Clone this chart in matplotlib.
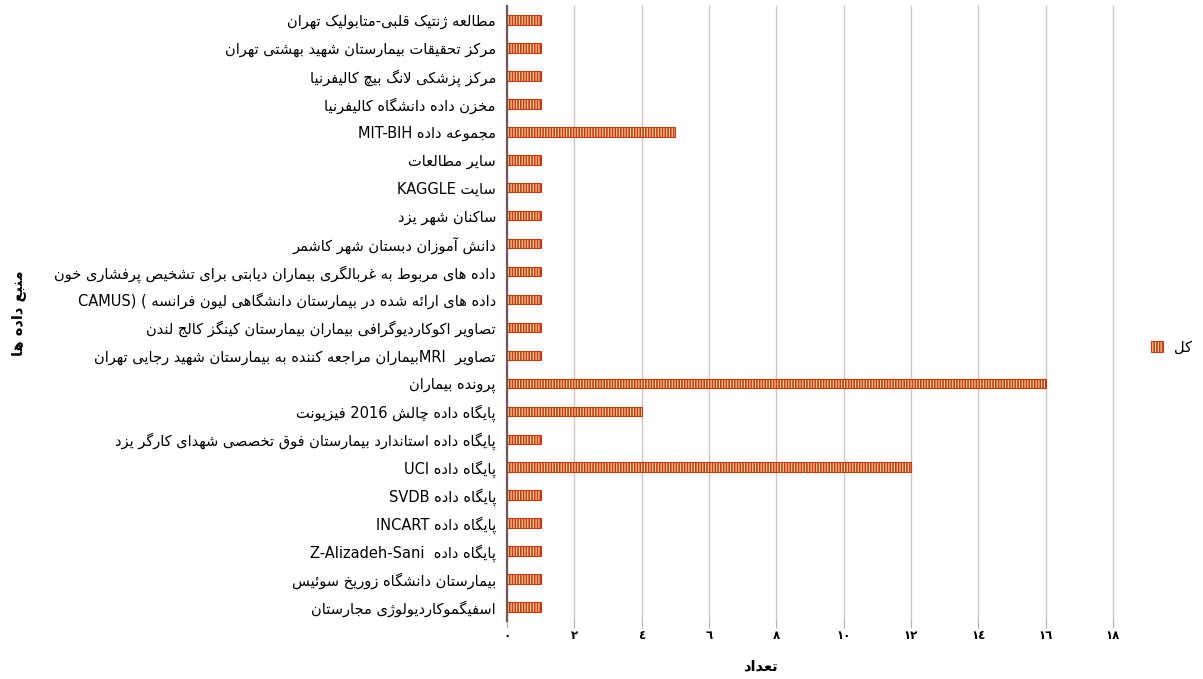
import re
import matplotlib
matplotlib.use("Agg")
import matplotlib.pyplot as plt

# data sources (logical Persian order) and counts
sources = [
    "مطالعه ژنتیک قلبی-متابولیک تهران",
    "مرکز تحقیقات بیمارستان شهید بهشتی تهران",
    "مرکز پزشکی لانگ بیچ کالیفرنیا",
    "مخزن داده دانشگاه کالیفرنیا",
    "مجموعه داده MIT-BIH",
    "سایر مطالعات",
    "سایت KAGGLE",
    "ساکنان شهر یزد",
    "دانش آموزان دبستان شهر کاشمر",
    "داده های مربوط به غربالگری بیماران دیابتی برای تشخیص پرفشاری خون",
    "داده های ارائه شده در بیمارستان دانشگاهی لیون فرانسه ( CAMUS)",
    "تصاویر اکوکاردیوگرافی بیماران بیمارستان کینگز کالج لندن",
    "تصاویر  MRIبیماران مراجعه کننده به بیمارستان شهید رجایی تهران",
    "پرونده بیماران",
    "پایگاه داده چالش 2016 فیزیونت",
    "پایگاه داده استاندارد بیمارستان فوق تخصصی شهدای کارگر یزد",
    "پایگاه داده UCI",
    "پایگاه داده SVDB",
    "پایگاه داده INCART",
    "پایگاه داده  Z-Alizadeh-Sani",
    "بیمارستان دانشگاه زوریخ سوئیس",
    "اسفیگموکاردیولوژی مجارستان",
]
counts = [1, 1, 1, 1, 5, 1, 1, 1, 1, 1, 1, 1, 1, 16, 4, 1, 12, 1, 1, 1, 1, 1]
xticks = [0, 2, 4, 6, 8, 10, 12, 14, 16, 18]
series_name = "کل"
xlabel = "تعداد"
ylabel = "منبع داده ها"

# --- minimal arabic/persian shaping (no reshaper lib available) ---
# (isolated, final, initial, medial); 2-tuple -> joins only to the right
FORMS = {
    "ء": ("\uFE80",),
    "آ": ("\uFE81", "\uFE82"), "أ": ("\uFE83", "\uFE84"), "ؤ": ("\uFE85", "\uFE86"),
    "إ": ("\uFE87", "\uFE88"), "ئ": ("\uFE89", "\uFE8A", "\uFE8B", "\uFE8C"),
    "ا": ("\uFE8D", "\uFE8E"), "ب": ("\uFE8F", "\uFE90", "\uFE91", "\uFE92"),
    "ة": ("\uFE93", "\uFE94"), "ت": ("\uFE95", "\uFE96", "\uFE97", "\uFE98"),
    "ث": ("\uFE99", "\uFE9A", "\uFE9B", "\uFE9C"), "ج": ("\uFE9D", "\uFE9E", "\uFE9F", "\uFEA0"),
    "ح": ("\uFEA1", "\uFEA2", "\uFEA3", "\uFEA4"), "خ": ("\uFEA5", "\uFEA6", "\uFEA7", "\uFEA8"),
    "د": ("\uFEA9", "\uFEAA"), "ذ": ("\uFEAB", "\uFEAC"), "ر": ("\uFEAD", "\uFEAE"),
    "ز": ("\uFEAF", "\uFEB0"), "س": ("\uFEB1", "\uFEB2", "\uFEB3", "\uFEB4"),
    "ش": ("\uFEB5", "\uFEB6", "\uFEB7", "\uFEB8"), "ص": ("\uFEB9", "\uFEBA", "\uFEBB", "\uFEBC"),
    "ض": ("\uFEBD", "\uFEBE", "\uFEBF", "\uFEC0"), "ط": ("\uFEC1", "\uFEC2", "\uFEC3", "\uFEC4"),
    "ظ": ("\uFEC5", "\uFEC6", "\uFEC7", "\uFEC8"), "ع": ("\uFEC9", "\uFECA", "\uFECB", "\uFECC"),
    "غ": ("\uFECD", "\uFECE", "\uFECF", "\uFED0"), "ف": ("\uFED1", "\uFED2", "\uFED3", "\uFED4"),
    "ق": ("\uFED5", "\uFED6", "\uFED7", "\uFED8"), "ك": ("\uFED9", "\uFEDA", "\uFEDB", "\uFEDC"),
    "ل": ("\uFEDD", "\uFEDE", "\uFEDF", "\uFEE0"), "م": ("\uFEE1", "\uFEE2", "\uFEE3", "\uFEE4"),
    "ن": ("\uFEE5", "\uFEE6", "\uFEE7", "\uFEE8"), "ه": ("\uFEE9", "\uFEEA", "\uFEEB", "\uFEEC"),
    "و": ("\uFEED", "\uFEEE"), "ى": ("\uFEEF", "\uFEF0"),
    "ي": ("\uFEF1", "\uFEF2", "\uFEF3", "\uFEF4"),
    "پ": ("\uFB56", "\uFB57", "\uFB58", "\uFB59"), "چ": ("\uFB7A", "\uFB7B", "\uFB7C", "\uFB7D"),
    "ژ": ("\uFB8A", "\uFB8B"), "ک": ("\uFB8E", "\uFB8F", "\uFB90", "\uFB91"),
    "گ": ("\uFB92", "\uFB93", "\uFB94", "\uFB95"), "ی": ("\uFBFC", "\uFBFD", "\uFBFE", "\uFBFF"),
}


def shape_word(w):
    out = []
    i = 0
    n = len(w)
    while i < n:
        c = w[i]
        prev_joins = i > 0 and len(FORMS.get(w[i - 1], ())) == 4 and len(FORMS.get(c, ())) > 1
        if c == "ل" and i + 1 < n and w[i + 1] in "اآ":
            lig = ("\uFEFB", "\uFEFC") if w[i + 1] == "ا" else ("\uFEF5", "\uFEF6")
            out.append(lig[1] if prev_joins else lig[0])
            i += 2
            continue
        f = FORMS.get(c)
        if f is None:
            out.append(c)
            i += 1
            continue
        next_joins = len(f) == 4 and i + 1 < n and len(FORMS.get(w[i + 1], ())) > 1
        if prev_joins and next_joins:
            out.append(f[3])
        elif prev_joins:
            out.append(f[1])
        elif next_joins:
            out.append(f[2])
        else:
            out.append(f[0])
        i += 1
    return "".join(out)


def fa(s):
    parts = re.split(r"([\u0600-\u06FF]+)", s)
    vis = []
    for p in parts:
        if not p:
            continue
        if re.match(r"[\u0600-\u06FF]", p):
            vis.append(shape_word(p)[::-1])
        else:
            vis.append("".join(re.split(r"(\s+)", p)[::-1]))
    return "".join(vis[::-1])


def fa_digits(v):
    return "".join(chr(0x0660 + int(d)) for d in str(v))


plt.rcParams["font.family"] = ["DejaVu Sans"]
plt.rcParams["hatch.linewidth"] = 1.2

fig = plt.figure(figsize=(12.03, 6.79), dpi=100)
ax = fig.add_axes([507 / 1203, 1 - 621 / 679, (1113 - 507) / 1203, 615 / 679])

ypos = list(range(len(sources)))
ax.barh(ypos, counts, height=0.34, color="#fbd8a4", edgecolor="#c83c14",
        hatch="||||||", linewidth=0.8, label=fa(series_name), zorder=3)

ax.set_ylim(len(sources) - 0.5, -0.5)
ax.set_xlim(0, 18)
ax.set_yticks(ypos)
ax.set_yticklabels([fa(s) for s in sources], fontsize=10.5)
ax.set_xticks(xticks)
ax.set_xticklabels([fa_digits(t) for t in xticks], fontsize=8.5, fontweight="bold")

ax.tick_params(axis="y", length=0, pad=8)
ax.tick_params(axis="x", length=5, color="#b0b0b0", pad=1)
ax.grid(axis="x", color="#c8c8c8", linewidth=1.0, zorder=0)
for gl in ax.get_xgridlines():
    gl.set_clip_on(False)
for sp in ("top", "right", "bottom"):
    ax.spines[sp].set_visible(False)
ax.spines["left"].set_color("#6b5a55")
ax.spines["left"].set_linewidth(1.6)
ax.spines["left"].set_zorder(4)

ax.set_xlabel(fa(xlabel), fontsize=10.5, fontweight="bold")
ax.xaxis.set_label_coords((760 - 507) / (1113 - 507), -0.06)
ax.set_ylabel(fa(ylabel), fontsize=10.5, fontweight="bold", rotation=90)
ax.yaxis.set_label_coords((26 - 507) / (1113 - 507), 0.5)

fig.legend(loc="center left", bbox_to_anchor=(1138 / 1203, 1 - 347 / 679), frameon=False,
           handlelength=0.8, handleheight=0.8, handletextpad=0.8, fontsize=10.5)

fig.savefig("out.png", dpi=100)
